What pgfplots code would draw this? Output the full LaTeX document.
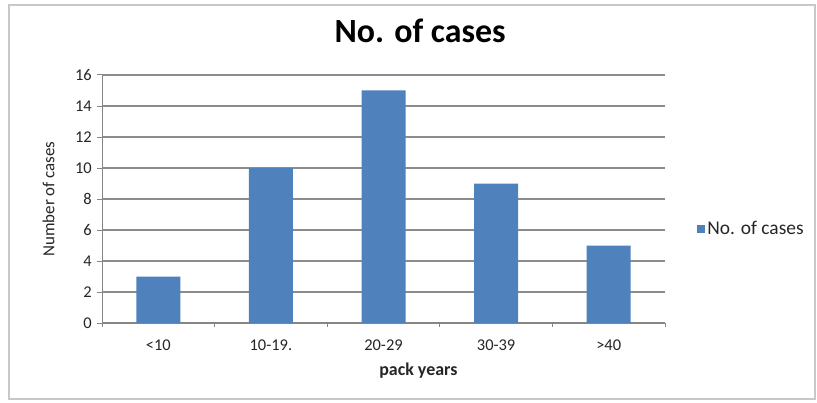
\documentclass[border=0pt]{standalone}
\usepackage{pgfplots}
\pgfplotsset{compat=1.18}
\usepackage{fontspec}
\setmainfont{Carlito}
\definecolor{barblue}{HTML}{4F81BD}
\definecolor{gridgray}{HTML}{8C8C8C}
\definecolor{axgray}{HTML}{868686}
\definecolor{txtgray}{HTML}{262626}
\definecolor{bordergray}{HTML}{C8C8C8}
\begin{document}
\begin{tikzpicture}[x=1bp,y=1bp]
\path[use as bounding box] (0,0) rectangle (817,402);
\fill[white] (0,0) rectangle (817,402);
\draw[bordergray, line width=1.5bp] (9,3) rectangle (815,397);
\begin{axis}[
  at={(102bp,79bp)}, anchor=south west,
  scale only axis, width=563bp, height=248bp,
  xmin=-0.5, xmax=4.5, ymin=0, ymax=16,
  ytick={0,2,...,16},
  xtick={0,1,2,3,4},
  xticklabels={{<10},{10-19.},{20-29},{30-39},{>40}},
  ymajorgrids, grid style={gridgray, line width=1.3bp},
  axis x line*=bottom, axis y line*=left,
  axis line style={axgray, line width=1.3bp, -},
  y axis line style={line width=1bp},
  tick align=outside,
  major tick length=5bp,
  xtick style={draw=none},
  ytick style={axgray, line width=1bp},
  extra x ticks={-0.5,0.5,1.5,2.5,3.5,4.5},
  extra x tick labels={},
  extra x tick style={xtick style={axgray, line width=1bp, draw=axgray}, major tick length=4bp, grid=none},
  /pgf/number format/assume math mode=true,
  ticklabel style={font=\fontsize{16.5}{16.5}\selectfont, text=txtgray},
  yticklabel style={inner sep=0pt, xshift=-5bp},
  xticklabel style={inner sep=0pt, yshift=-12bp},
  xlabel={pack years},
  xlabel style={font=\bfseries\fontsize{18}{18}\selectfont, text=txtgray, at={(0.562,-0.194)}, anchor=center},
  ylabel={Number of cases},
  ylabel style={font=\fontsize{17}{17}\selectfont, text=txtgray, at={(-0.095,0.5)}, anchor=center, rotate=0},
  title={No. of cases},
  title style={font=\bfseries\fontsize{34}{34}\selectfont, text=black, at={(0.565,1.153)}, anchor=center},
  ybar, bar width=44bp,
  legend style={at={(1.057,0.379)}, anchor=west, draw=none, fill=none, inner sep=0pt,
    font=\fontsize{19.5}{19.5}\selectfont, text=txtgray},
  legend image code/.code={\fill[barblue] (0bp,-4bp) rectangle (8bp,4bp);},
]
\addplot[fill=barblue, draw=none] coordinates {(0,3) (1,10) (2,15) (3,9) (4,5)};
\legend{No. of cases}
\end{axis}
\end{tikzpicture}
\end{document}
